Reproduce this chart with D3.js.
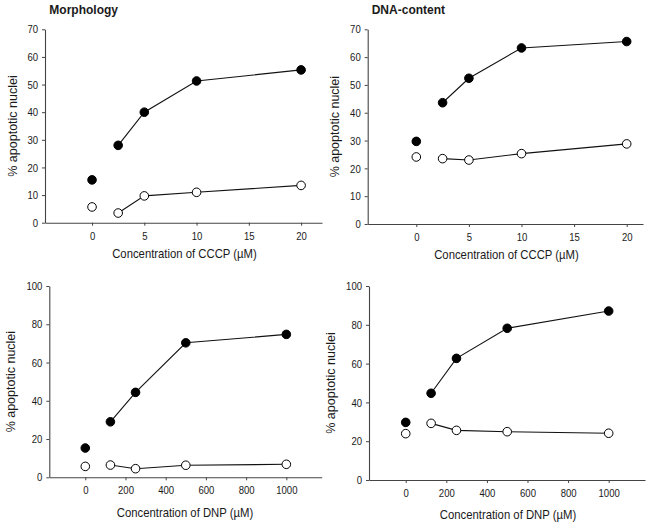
<!DOCTYPE html>
<html><head><meta charset="utf-8">
<script src="https://cdn.jsdelivr.net/npm/d3@7"></script>
<style>body{margin:0;background:#fff}svg{display:block}text{font-family:"Liberation Sans",Arial,sans-serif;fill:#1a1a1a}</style>
</head><body>
<script>
// Data
const cccpConc = [0, 2.5, 5, 10, 20];
const dnpConc = [0, 125, 250, 500, 1000];
const morphCCCPFilled = [15.5, 28, 40, 51.3, 55.3];
const morphCCCPOpen = [5.7, 3.5, 9.7, 11, 13.5];
const dnaCCCPFilled = [29.7, 43.6, 52.4, 63.3, 65.6];
const dnaCCCPOpen = [24.1, 23.5, 23, 25.3, 28.8];
const morphDNPFilled = [15.3, 29, 44.4, 70.3, 74.7];
const morphDNPOpen = [5.7, 6.4, 4.5, 6.3, 6.8];
const dnaDNPFilled = [29.7, 44.7, 62.7, 78.2, 87.1];
const dnaDNPOpen = [23.9, 29.2, 25.6, 24.9, 24.1];
const cccpTicks = [0, 5, 10, 15, 20];
const dnpTicks = [0, 200, 400, 600, 800, 1000];
const yTicks70 = [0, 10, 20, 30, 40, 50, 60, 70];
const yTicks100 = [0, 20, 40, 60, 80, 100];
const titles = ["Morphology", "DNA-content"];
const xLabels = ["Concentration of CCCP (\u00b5M)", "Concentration of DNP (\u00b5M)"];
const yLabel = "% apoptotic nuclei";

const svg = d3.select("body").append("svg").attr("width", 651).attr("height", 526);

// horizontal compression seen in the reference scan
function narrow(sel, k) {
  sel.each(function () {
    const w = this.getComputedTextLength();
    d3.select(this).attr("textLength", w * k).attr("lengthAdjust", "spacingAndGlyphs");
  });
}

const panels = [
  {left:45, right:322, top:29.3, bottom:222.7, xd:[-4.5,22], yd:[0,70], xt:cccpTicks, yt:yTicks70, xs:cccpConc, f:morphCCCPFilled, o:morphCCCPOpen, xl:xLabels[0], xlX:184.5, xlY:257.5, ylX:14, title:titles[0], tX:49.3},
  {left:367.7, right:643, top:29.3, bottom:224, xd:[-4.62,21.55], yd:[0,70], xt:cccpTicks, yt:yTicks70, xs:cccpConc, f:dnaCCCPFilled, o:dnaCCCPOpen, xl:xLabels[0], xlX:506.5, xlY:259, ylX:336, title:titles[1], tX:371.7},
  {left:49.3, right:321.7, top:286, bottom:477.3, xd:[-179,1176], yd:[0,100], xt:dnpTicks, yt:yTicks100, xs:dnpConc, f:morphDNPFilled, o:morphDNPOpen, xl:xLabels[1], xlX:185, xlY:516.5, ylX:12},
  {left:369, right:645, top:286, bottom:480, xd:[-181,1179], yd:[0,100], xt:dnpTicks, yt:yTicks100, xs:dnpConc, f:dnaDNPFilled, o:dnaDNPOpen, xl:xLabels[1], xlX:508, xlY:519, ylX:332}
];

panels.forEach(p => {
  const x = d3.scaleLinear().domain(p.xd).range([p.left, p.right]);
  const y = d3.scaleLinear().domain(p.yd).range([p.bottom, p.top]);
  const g = svg.append("g");

  const ya = g.append("g").attr("transform", `translate(${p.left},0)`)
    .call(d3.axisLeft(y).tickValues(p.yt).tickFormat(d3.format("d")).tickSize(3).tickPadding(4).tickSizeOuter(0));
  const xa = g.append("g").attr("transform", `translate(0,${p.bottom})`)
    .call(d3.axisBottom(x).tickValues(p.xt).tickFormat(d3.format("d")).tickSize(3).tickPadding(6).tickSizeOuter(0));
  [ya, xa].forEach(a => {
    a.select(".domain").attr("stroke", "#444").attr("stroke-width", 1.1);
    a.selectAll(".tick line").attr("stroke", "#444");
    a.selectAll(".tick text").attr("font-size", 11.5).attr("fill", "#1a1a1a")
      .attr("font-family", '"Liberation Sans",Arial,sans-serif').call(narrow, 0.83);
  });

  g.append("text").attr("x", p.xlX).attr("y", p.xlY)
    .attr("text-anchor", "middle").attr("font-size", 13).text(p.xl).call(narrow, 0.87);
  g.append("text").attr("transform", `translate(${p.ylX},${(p.top + p.bottom) / 2}) rotate(-90)`)
    .attr("text-anchor", "middle").attr("dominant-baseline", "middle").attr("font-size", 12.5).text(yLabel);
  if (p.title) {
    g.append("text").attr("x", p.tX).attr("y", 14).attr("font-size", 13.5).attr("font-weight", "bold").text(p.title).call(narrow, 0.89);
  }

  const line = d3.line().x(d => x(d[0])).y(d => y(d[1]));
  [p.f, p.o].forEach(vals => {
    const pts = p.xs.map((c, i) => [c, vals[i]]);
    g.append("path").datum(pts.slice(1)).attr("d", line).attr("fill", "none").attr("stroke", "#111").attr("stroke-width", 1.1);
  });
  [[p.o, "#fff"], [p.f, "#000"]].forEach(([vals, fill]) => {
    g.selectAll(null).data(p.xs.map((c, i) => [c, vals[i]])).enter().append("circle")
      .attr("cx", d => x(d[0])).attr("cy", d => y(d[1])).attr("r", 4.3)
      .attr("fill", fill).attr("stroke", "#000").attr("stroke-width", 1);
  });
});
</script>
</body></html>
